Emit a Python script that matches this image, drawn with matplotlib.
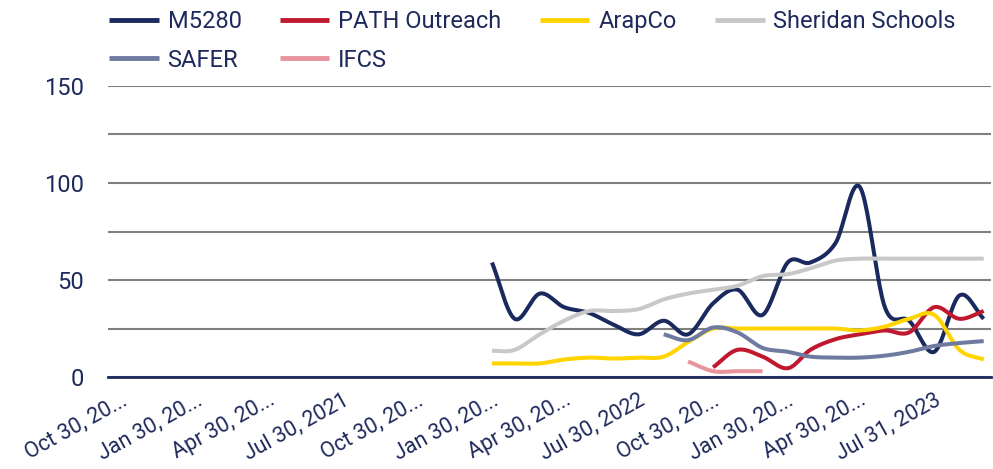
import numpy as np
import pandas as pd
import matplotlib
matplotlib.use("Agg")
import matplotlib.pyplot as plt
import matplotlib.dates as mdates

plt.rcParams['font.family'] = ['Roboto', 'DejaVu Sans']

# ---- data (monthly, month-end dates) ----
months = pd.date_range('2022-01-31', periods=21, freq='ME')

m5280 = [59, 30, 43, 36, 33, 27, 22, 29, 22, 38, 45, 32, 59, 59, 69, 98, 36, 29, 13, 42, 30]
path_outreach = [5, 14, 10.5, 4.5, 14, 19.5, 22, 24, 23, 36, 30, 34]          # Oct 2022 -> Sep 2023
arapco = [7, 7, 7, 9, 10, 9.5, 10, 10.5, 18, 25, 25, 25, 25, 25, 25, 24, 26, 30, 32, 14, 9]
sheridan = [13.5, 14, 22, 29, 34, 34, 35, 40, 43, 45, 47, 52, 53, 56, 60, 61, 61, 61, 61, 61, 61]
safer = [22, 19, 25.5, 23, 15, 13, 10.5, 10, 10, 11, 13, 16, 17.5, 18.5]        # Aug 2022 -> Sep 2023
ifcs = [8, 3, 3, 3]                                                               # Sep 2022 -> Dec 2022

series = [
    ("M5280", months, m5280, "#1b2a5e"),
    ("PATH Outreach", months[9:], path_outreach, "#c0182f"),
    ("ArapCo", months, arapco, "#ffd400"),
    ("Sheridan Schools", months, sheridan, "#c8c8c8"),
    ("SAFER", months[7:], safer, "#6f7aa0"),
    ("IFCS", months[8:12], ifcs, "#e8949d"),
]

tick_dates = pd.to_datetime(['2020-10-30', '2021-01-30', '2021-04-30', '2021-07-30',
                             '2021-10-30', '2022-01-30', '2022-04-30', '2022-07-30',
                             '2022-10-30', '2023-01-30', '2023-04-30', '2023-07-31'])
tick_labels = ['Oct 30, 20...', 'Jan 30, 20...', 'Apr 30, 20...', 'Jul 30, 2021',
               'Oct 30, 20...', 'Jan 30, 20...', 'Apr 30, 20...', 'Jul 30, 2022',
               'Oct 30, 20...', 'Jan 30, 20...', 'Apr 30, 20...', 'Jul 31, 2023']


def smooth(xd, yv, n=24):
    """Catmull-Rom smoothing through the data points (like a smoothed line chart)."""
    x = np.asarray(xd, dtype=float)
    y = np.asarray(yv, dtype=float)
    if len(x) < 3:
        return x, y
    px = np.concatenate([[2 * x[0] - x[1]], x, [2 * x[-1] - x[-2]]])
    py = np.concatenate([[2 * y[0] - y[1]], y, [2 * y[-1] - y[-2]]])
    xs, ys = [], []
    t = np.linspace(0, 1, n, endpoint=False)
    for i in range(1, len(px) - 2):
        p0, p1, p2, p3 = px[i - 1], px[i], px[i + 1], px[i + 2]
        q0, q1, q2, q3 = py[i - 1], py[i], py[i + 1], py[i + 2]
        h00 = 2 * t**3 - 3 * t**2 + 1
        h10 = t**3 - 2 * t**2 + t
        h01 = -2 * t**3 + 3 * t**2
        h11 = t**3 - t**2
        mx1, mx2 = (p2 - p0) / 2, (p3 - p1) / 2
        my1, my2 = (q2 - q0) / 2, (q3 - q1) / 2
        xs.append(h00 * p1 + h10 * mx1 + h01 * p2 + h11 * mx2)
        ys.append(h00 * q1 + h10 * my1 + h01 * q2 + h11 * my2)
    xs.append([x[-1]])
    ys.append([y[-1]])
    return np.concatenate(xs), np.concatenate(ys)


navy = "#1f2a5c"
fig = plt.figure(figsize=(9.93, 4.69), dpi=100)
ax = fig.add_axes([108 / 993, 1 - 377 / 469, 883 / 993, (377 - 86) / 469])

handles = []
for name, d, v, c in series:
    xs, ys = smooth(mdates.date2num(d), v)
    ln, = ax.plot(xs, ys, color=c, lw=2.9, solid_capstyle='butt', label=name)
    handles.append(ln)

ax.set_ylim(0, 150)
ax.set_xlim(mdates.date2num(pd.Timestamp('2020-10-14')), mdates.date2num(pd.Timestamp('2023-10-09')))
ax.set_yticks([0, 50, 100, 150])
ax.set_yticks([25, 75, 125], minor=True)
ax.grid(axis='y', which='both', color='#808080', lw=1.5)
ax.set_axisbelow(True)
for s in ['top', 'right', 'left']:
    ax.spines[s].set_visible(False)
ax.spines['bottom'].set_color(navy)
ax.spines['bottom'].set_linewidth(2)
ax.spines['bottom'].set_zorder(5)

ax.set_xticks(mdates.date2num(tick_dates))
ax.set_xticklabels(tick_labels, rotation=29, ha='right', va='top', rotation_mode='anchor')
ax.tick_params(axis='x', length=0, pad=9, labelsize=15.5, labelcolor=navy)
ax.tick_params(axis='y', which='both', length=0, pad=17, labelsize=17, labelcolor=navy)

order = [0, 4, 1, 5, 2, 3]
leg = fig.legend([handles[i] for i in order], [series[i][0] for i in order],
                 ncol=4, loc='upper left', bbox_to_anchor=(109 / 993, 1 - 10 / 469),
                 frameon=False, fontsize=17, handlelength=2.1, handletextpad=0.38,
                 columnspacing=1.62, labelspacing=0.66, borderpad=0, borderaxespad=0)
for t in leg.get_texts():
    t.set_color(navy)
for lh in leg.legend_handles:
    lh.set_linewidth(3.5)

fig.savefig("out.png", dpi=100)
